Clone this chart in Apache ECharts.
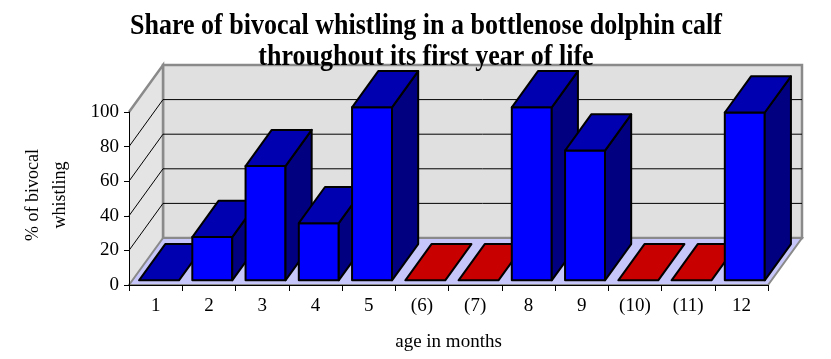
<!DOCTYPE html>
<html>
<head>
<meta charset="utf-8">
<script src="https://cdn.jsdelivr.net/npm/echarts@6/dist/echarts.min.js"></script>
<style>
html,body{margin:0;padding:0;background:#fff;}
#chart{width:831px;height:359px;}
</style>
</head>
<body>
<div id="chart"></div>
<script>
// ---- data ----
const categories = ['1','2','3','4','5','(6)','(7)','8','9','(10)','(11)','12'];
const bivocalShare = [0, 25, 66, 33, 100, null, null, 100, 75, null, null, 97];
const noDataMonths = [null, null, null, null, null, 0, 0, null, null, 0, 0, null];
const yMin = 0, yMax = 100, yStep = 20;
const gridValues = [20, 40, 60, 80];
const titleLines = ['Share of bivocal whistling in a bottlenose dolphin calf', 'throughout its first year of life'];
const yTitleLines = ['% of bivocal', 'whistling'];
const xTitle = 'age in months';

// ---- 3D styling ----
const DX = 34, DY = -47;       // depth vector of the plot box
const F0 = 0.10, F1 = 0.87;    // front/back depth fractions of bars
const BAR_W = 0.75;            // bar width as fraction of band

const chart = echarts.init(document.getElementById('chart'), null, {renderer: 'canvas'});

function renderFrame(params, api) {
  const n = categories.length;
  const bw = api.size([1, 0])[0];
  const p0 = api.coord([0, yMin]);
  const xL = p0[0] - bw / 2;
  const xR = api.coord([n - 1, yMin])[0] + bw / 2;
  const y0 = p0[1];
  const yT = api.coord([0, yMax])[1];
  const grey = '#8a8a8a';
  const children = [];
  children.push({type: 'rect', shape: {x: xL + DX, y: yT + DY, width: xR - xL, height: y0 - yT},
    style: {fill: '#e0e0e0', stroke: grey, lineWidth: 2.5}});
  children.push({type: 'polygon', shape: {points: [[xL, yT], [xL + DX, yT + DY], [xL + DX, y0 + DY], [xL, y0]]},
    style: {fill: '#e4e4e4', stroke: null}});
  children.push({type: 'polyline', shape: {points: [[xL, yT], [xL + DX, yT + DY], [xL + DX, y0 + DY]]},
    style: {stroke: grey, lineWidth: 2.5, fill: null}});
  children.push({type: 'polygon', shape: {points: [[xL, y0], [xR, y0], [xR + DX, y0 + DY], [xL + DX, y0 + DY]]},
    style: {fill: '#c6c6fa', stroke: grey, lineWidth: 2}});
  gridValues.forEach(function (v) {
    const y = api.coord([0, v])[1];
    children.push({type: 'line', shape: {x1: xL + DX, y1: y + DY, x2: xR + DX, y2: y + DY},
      style: {stroke: '#000', lineWidth: 1}});
    children.push({type: 'line', shape: {x1: xL, y1: y, x2: xL + DX, y2: y + DY},
      style: {stroke: '#000', lineWidth: 1}});
  });
  return {type: 'group', children: children};
}

function makeBarRenderer(frontCol, topCol, sideCol) {
  return function (params, api) {
    const c = api.value(0);
    const v = api.value(1);
    if (v == null || isNaN(v)) return;
    const bw = api.size([1, 0])[0] * BAR_W;
    const base = api.coord([c, 0]);
    const top = api.coord([c, v]);
    const fx = base[0] - bw / 2 + DX * F0;
    const fy0 = base[1] + DY * F0;
    const fy1 = top[1] + DY * F0;
    const ddx = DX * (F1 - F0), ddy = DY * (F1 - F0);
    const st = {stroke: '#000', lineWidth: 2, lineJoin: 'round'};
    const children = [];
    if (fy0 - fy1 > 0.5) {
      children.push({type: 'polygon', shape: {points: [[fx, fy1], [fx + bw, fy1], [fx + bw, fy0], [fx, fy0]]},
        style: Object.assign({fill: frontCol}, st)});
      children.push({type: 'polygon', shape: {points: [[fx + bw, fy1], [fx + bw + ddx, fy1 + ddy], [fx + bw + ddx, fy0 + ddy], [fx + bw, fy0]]},
        style: Object.assign({fill: sideCol}, st)});
    }
    children.push({type: 'polygon', shape: {points: [[fx, fy1], [fx + bw, fy1], [fx + bw + ddx, fy1 + ddy], [fx + ddx, fy1 + ddy]]},
      style: Object.assign({fill: topCol}, st)});
    return {type: 'group', children: children};
  };
}

const blueData = bivocalShare.map(function (v, i) { return v == null ? null : [i, v]; }).filter(Boolean);
const redData = noDataMonths.map(function (v, i) { return v == null ? null : [i, v]; }).filter(Boolean);

const serif = '"Liberation Serif", "Times New Roman", serif';

chart.setOption({
  animation: false,
  backgroundColor: '#ffffff',
  grid: {left: 129, right: 63, top: 112, bottom: 74, containLabel: false},
  xAxis: {
    type: 'category', data: categories, boundaryGap: true, z: 10,
    axisLine: {lineStyle: {color: '#000', width: 1}},
    axisTick: {show: true, length: 6, lineStyle: {color: '#000'}},
    axisLabel: {color: '#000', fontFamily: serif, fontSize: 19, margin: 12},
    splitLine: {show: false},
    name: xTitle, nameLocation: 'middle', nameGap: 48,
    nameTextStyle: {color: '#000', fontFamily: serif, fontSize: 19}
  },
  yAxis: {
    type: 'value', min: yMin, max: yMax, interval: yStep, z: 10,
    axisLine: {show: true, lineStyle: {color: '#000', width: 1}},
    axisTick: {show: true, length: 5, lineStyle: {color: '#000'}},
    axisLabel: {color: '#000', fontFamily: serif, fontSize: 19, margin: 10},
    splitLine: {show: false}
  },
  graphic: [
    {type: 'text', x: 426, y: 10, z: 100, scaleY: 1.15,
      style: {text: titleLines.join('\n'), font: 'bold 26px ' + serif, align: 'center', verticalAlign: 'top', lineHeight: 27.5, fill: '#000'}},
    {type: 'text', x: 47, y: 195, rotation: Math.PI / 2, z: 100,
      style: {text: yTitleLines.join('\n'), font: '18px ' + serif, align: 'center', verticalAlign: 'middle', lineHeight: 27, fill: '#000'}}
  ],
  series: [
    {type: 'custom', name: 'frame', renderItem: renderFrame, data: [[0, 0]], z: 1, silent: true,
      encode: {x: 0, y: 1}},
    {type: 'custom', name: 'no data', renderItem: makeBarRenderer('#cc0000', '#c80000', '#800000'), data: redData, z: 2,
      encode: {x: 0, y: 1}},
    {type: 'custom', name: 'bivocal share', renderItem: makeBarRenderer('#0000ff', '#0000b0', '#000080'), data: blueData, z: 3,
      encode: {x: 0, y: 1}}
  ]
});
</script>
</body>
</html>
